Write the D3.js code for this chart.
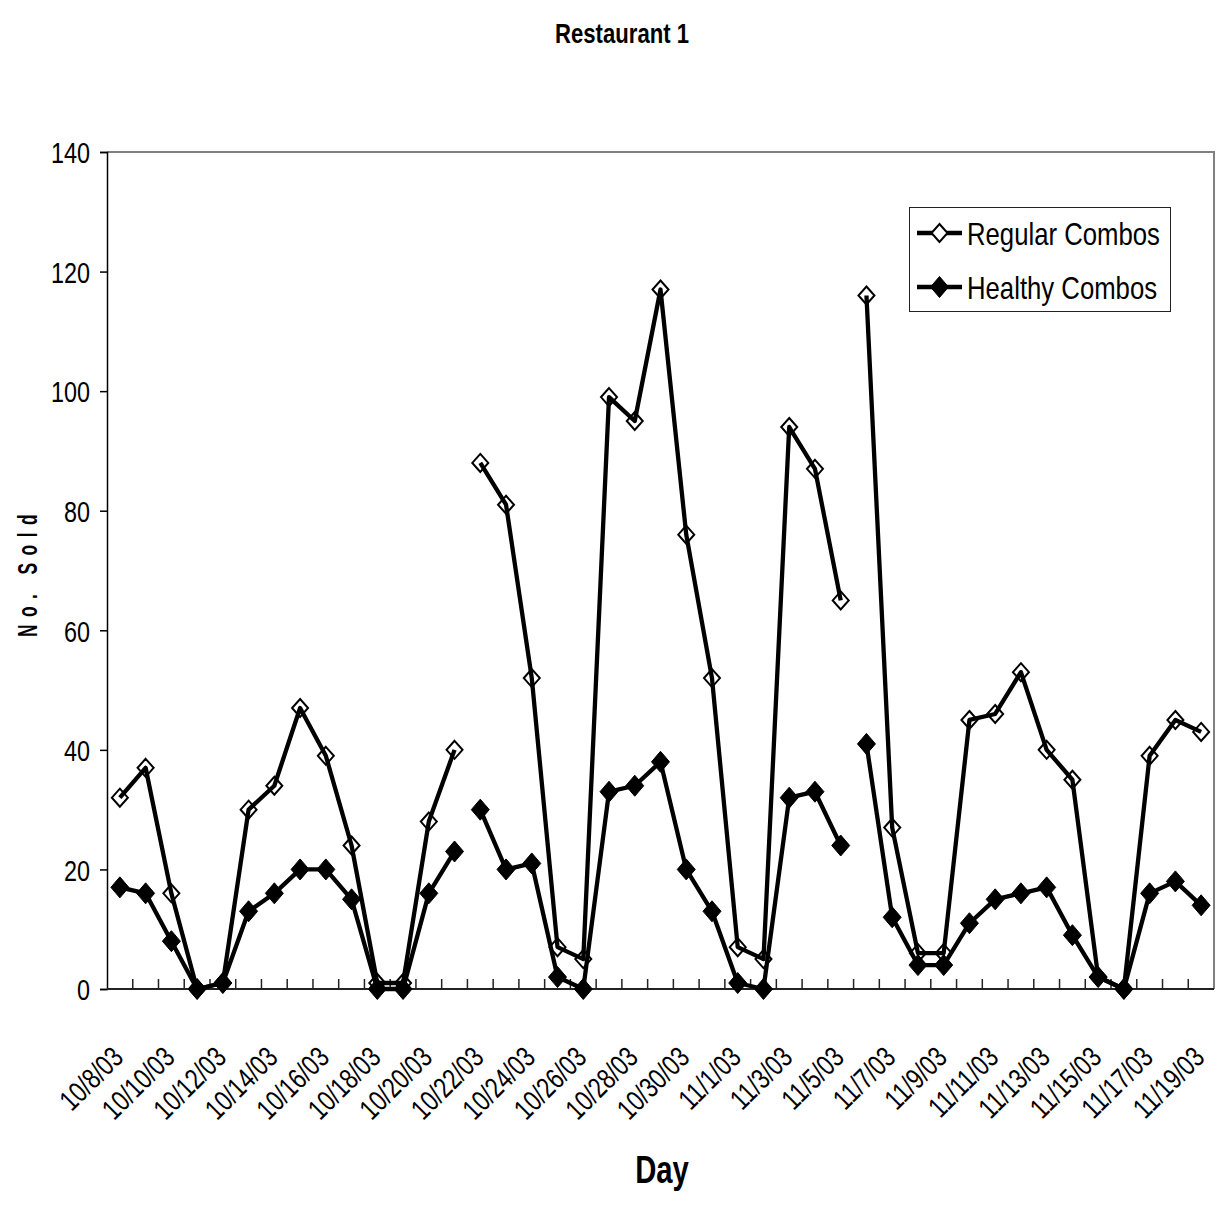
<!DOCTYPE html>
<html>
<head>
<meta charset="utf-8">
<script src="https://cdn.jsdelivr.net/npm/d3@7/dist/d3.min.js"></script>
<style>
  html, body { margin: 0; padding: 0; background: #fff; }
  svg { display: block; }
  text { font-family: "Liberation Sans", Arial, sans-serif; fill: #000; }
</style>
</head>
<body>
<svg id="chart" width="1217" height="1205"></svg>
<script>
// Daily combo sales, Restaurant 1
const days = [
  "10/8/03","10/9/03","10/10/03","10/11/03","10/12/03","10/13/03","10/14/03","10/15/03",
  "10/16/03","10/17/03","10/18/03","10/19/03","10/20/03","10/21/03","10/22/03","10/23/03",
  "10/24/03","10/25/03","10/26/03","10/27/03","10/28/03","10/29/03","10/30/03","10/31/03",
  "11/1/03","11/2/03","11/3/03","11/4/03","11/5/03","11/6/03","11/7/03","11/8/03",
  "11/9/03","11/10/03","11/11/03","11/12/03","11/13/03","11/14/03","11/15/03","11/16/03",
  "11/17/03","11/18/03","11/19/03"
];
const regularCombos = [
  32, 37, 16, 0, 1, 30, 34, 47, 39, 24, 1, 1, 28, 40, 88, 81,
  52, 7, 5, 99, 95, 117, 76, 52, 7, 5, 94, 87, 65, 116, 27, 6,
  6, 45, 46, 53, 40, 35, 2, 0, 39, 45, 43
];
const healthyCombos = [
  17, 16, 8, 0, 1, 13, 16, 20, 20, 15, 0, 0, 16, 23, 30, 20,
  21, 2, 0, 33, 34, 38, 20, 13, 1, 0, 32, 33, 24, 41, 12, 4,
  4, 11, 15, 16, 17, 9, 2, 0, 16, 18, 14
];
// Days on which the connecting line starts afresh
const runStarts = ["10/8/03", "10/22/03", "11/6/03"];
const yTicks = [0, 20, 40, 60, 80, 100, 120, 140];
const xTickLabels = days.filter((d, i) => i % 2 === 0);

const svg = d3.select("#chart");
const plot = { left: 107, right: 1214, top: 152, bottom: 989 };

const x = d3.scalePoint().domain(days).range([plot.left, plot.right]).padding(0.5);
const y = d3.scaleLinear().domain([0, 140]).range([plot.bottom, plot.top]);
const step = x.step();

// condensed lettering (narrow face look)
const narrow = 0.78;

// plot frame: grey top and right edges
svg.append("path")
  .attr("d", `M${plot.left},${plot.top}H${plot.right}V${plot.bottom}`)
  .attr("fill", "none").attr("stroke", "#808080").attr("stroke-width", 2);

// y axis
const yAxis = svg.append("g").attr("transform", `translate(${plot.left},0)`)
  .call(d3.axisLeft(y).tickValues(yTicks).tickSize(7).tickFormat(d3.format("d")));
yAxis.select(".domain").attr("stroke", "#000").attr("stroke-width", 1.5);
yAxis.selectAll(".tick line").attr("stroke", "#000").attr("stroke-width", 1.5);
yAxis.selectAll(".tick text")
  .attr("x", 0).attr("dy", "0.36em")
  .attr("font-size", 30).attr("font-family", null)
  .attr("transform", `translate(-17,0) scale(${narrow},1)`);

// x axis: ticks between categories, pointing up into the plot
const boundaries = d3.range(1, days.length).map(i => plot.left + i * step);
const xAxisG = svg.append("g");
xAxisG.selectAll("line.tick").data(boundaries).join("line")
  .attr("class", "tick")
  .attr("x1", d => d).attr("x2", d => d)
  .attr("y1", plot.bottom).attr("y2", plot.bottom - 10)
  .attr("stroke", "#222").attr("stroke-width", 1.5);
xAxisG.append("line")
  .attr("x1", plot.left).attr("x2", plot.right)
  .attr("y1", plot.bottom).attr("y2", plot.bottom)
  .attr("stroke", "#222").attr("stroke-width", 2);

xAxisG.selectAll("text.lbl").data(xTickLabels).join("text")
  .attr("class", "lbl")
  .attr("text-anchor", "end")
  .attr("font-size", 29)
  .attr("transform", d => `translate(${x(d) + 5},1059) rotate(-45) scale(0.78,1)`)
  .text(d => d);

// split a series into connected runs
function runs(values) {
  const starts = runStarts.map(d => days.indexOf(d));
  return starts.map((s, k) => {
    const e = k + 1 < starts.length ? starts[k + 1] : days.length;
    return d3.range(s, e).map(i => ({ day: days[i], v: values[i] }));
  });
}
const line = d3.line().x(d => x(d.day)).y(d => y(d.v));
const diamond = (rx, ry) => `M0,${-ry}L${rx},0L0,${ry}L${-rx},0Z`;

// Regular combos: open diamonds
const reg = svg.append("g");
reg.selectAll("path.m").data(regularCombos).join("path")
  .attr("class", "m")
  .attr("d", diamond(8, 9))
  .attr("transform", (v, i) => `translate(${x(days[i])},${y(v)})`)
  .attr("fill", "#fff").attr("stroke", "#000").attr("stroke-width", 2);
reg.selectAll("path.l").data(runs(regularCombos)).join("path")
  .attr("class", "l")
  .attr("d", line).attr("fill", "none").attr("stroke", "#000").attr("stroke-width", 4.3)
  .attr("stroke-linejoin", "round");

// Healthy combos: filled diamonds
const hea = svg.append("g");
hea.selectAll("path.l").data(runs(healthyCombos)).join("path")
  .attr("class", "l")
  .attr("d", line).attr("fill", "none").attr("stroke", "#000").attr("stroke-width", 4.3)
  .attr("stroke-linejoin", "round");
hea.selectAll("path.m").data(healthyCombos).join("path")
  .attr("class", "m")
  .attr("d", diamond(9, 10.5))
  .attr("transform", (v, i) => `translate(${x(days[i])},${y(v)})`)
  .attr("fill", "#000").attr("stroke", "#000").attr("stroke-width", 1);

// legend
const legend = svg.append("g");
legend.append("rect").attr("x", 909.5).attr("y", 207.5).attr("width", 261).attr("height", 104)
  .attr("fill", "#fff").attr("stroke", "#222").attr("stroke-width", 1);
const legendItems = [
  { name: "Regular Combos", fill: "#fff", rx: 8, ry: 9, sw: 2, cy: 233 },
  { name: "Healthy Combos", fill: "#000", rx: 9, ry: 10.5, sw: 1, cy: 287 }
];
legendItems.forEach(it => {
  legend.append("line").attr("x1", 917).attr("x2", 962).attr("y1", it.cy).attr("y2", it.cy)
    .attr("stroke", "#000").attr("stroke-width", 4.3);
  legend.append("path").attr("d", diamond(it.rx, it.ry))
    .attr("transform", `translate(939.5,${it.cy})`)
    .attr("fill", it.fill).attr("stroke", "#000").attr("stroke-width", it.sw);
  legend.append("text").attr("font-size", 31)
    .attr("transform", `translate(967,${it.cy + 12}) scale(0.83,1)`)
    .text(it.name);
});

// titles
svg.append("text").attr("text-anchor", "middle")
  .attr("font-size", 27).attr("font-weight", "bold")
  .attr("transform", "translate(622,43) scale(0.82,1)")
  .text("Restaurant 1");
svg.append("text").attr("text-anchor", "middle")
  .attr("font-size", 38).attr("font-weight", "bold")
  .attr("transform", "translate(662,1183) scale(0.77,1)")
  .text("Day");
svg.append("text").attr("text-anchor", "middle").attr("font-size", 28).attr("font-weight", "bold")
  .attr("letter-spacing", 12)
  .attr("transform", "translate(37,572) rotate(-90) scale(0.62,1)")
  .text("No. Sold");
</script>
</body>
</html>
